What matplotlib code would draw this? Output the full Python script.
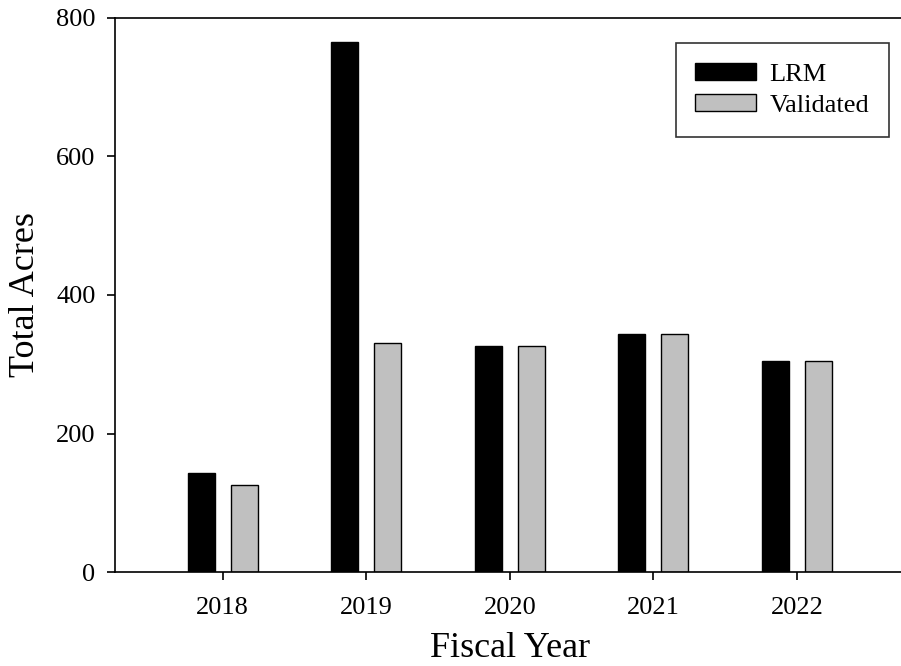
import matplotlib
matplotlib.use("Agg")
import matplotlib.pyplot as plt
import numpy as np

# Data
years = [2018, 2019, 2020, 2021, 2022]
lrm = [143, 765, 327, 344, 305]
validated = [126, 330, 327, 344, 305]

plt.rcParams['font.family'] = ['Liberation Serif', 'DejaVu Serif']

fig = plt.figure(figsize=(9.01, 6.66), dpi=100)
ax = fig.add_axes([0.1276, 0.1407, 0.8764, 0.8330])

x = np.array(years, dtype=float)
width = 0.188
off = 0.15

ax.bar(x - off, lrm, width, color="black", edgecolor="black", linewidth=1.0, label="LRM")
ax.bar(x + off, validated, width, color="#c0c0c0", edgecolor="black", linewidth=1.0, label="Validated")

ax.set_xlim(2017.25, 2022.75)
ax.set_ylim(0, 800)
ax.set_xticks(years)
ax.set_yticks([0, 200, 400, 600, 800])

ax.spines['right'].set_visible(False)
for s in ['left', 'top', 'bottom']:
    ax.spines[s].set_linewidth(1.2)

ax.tick_params(axis='both', direction='out', length=6, width=1.2, labelsize=19)
ax.tick_params(axis='y', pad=8)
ax.tick_params(axis='x', pad=12)

ax.set_xlabel("Fiscal Year", fontsize=26, labelpad=9)
ax.set_ylabel("Total Acres", fontsize=26, labelpad=10)

leg = ax.legend(loc="upper right", bbox_to_anchor=(0.980, 0.954), fontsize=19,
                frameon=True, fancybox=False, edgecolor="black",
                handlelength=2.3, handleheight=0.65, handletextpad=0.5,
                labelspacing=0.3, borderpad=0.75, borderaxespad=0.0)
leg.get_frame().set_linewidth(1.2)

fig.savefig("out.png", dpi=100)
